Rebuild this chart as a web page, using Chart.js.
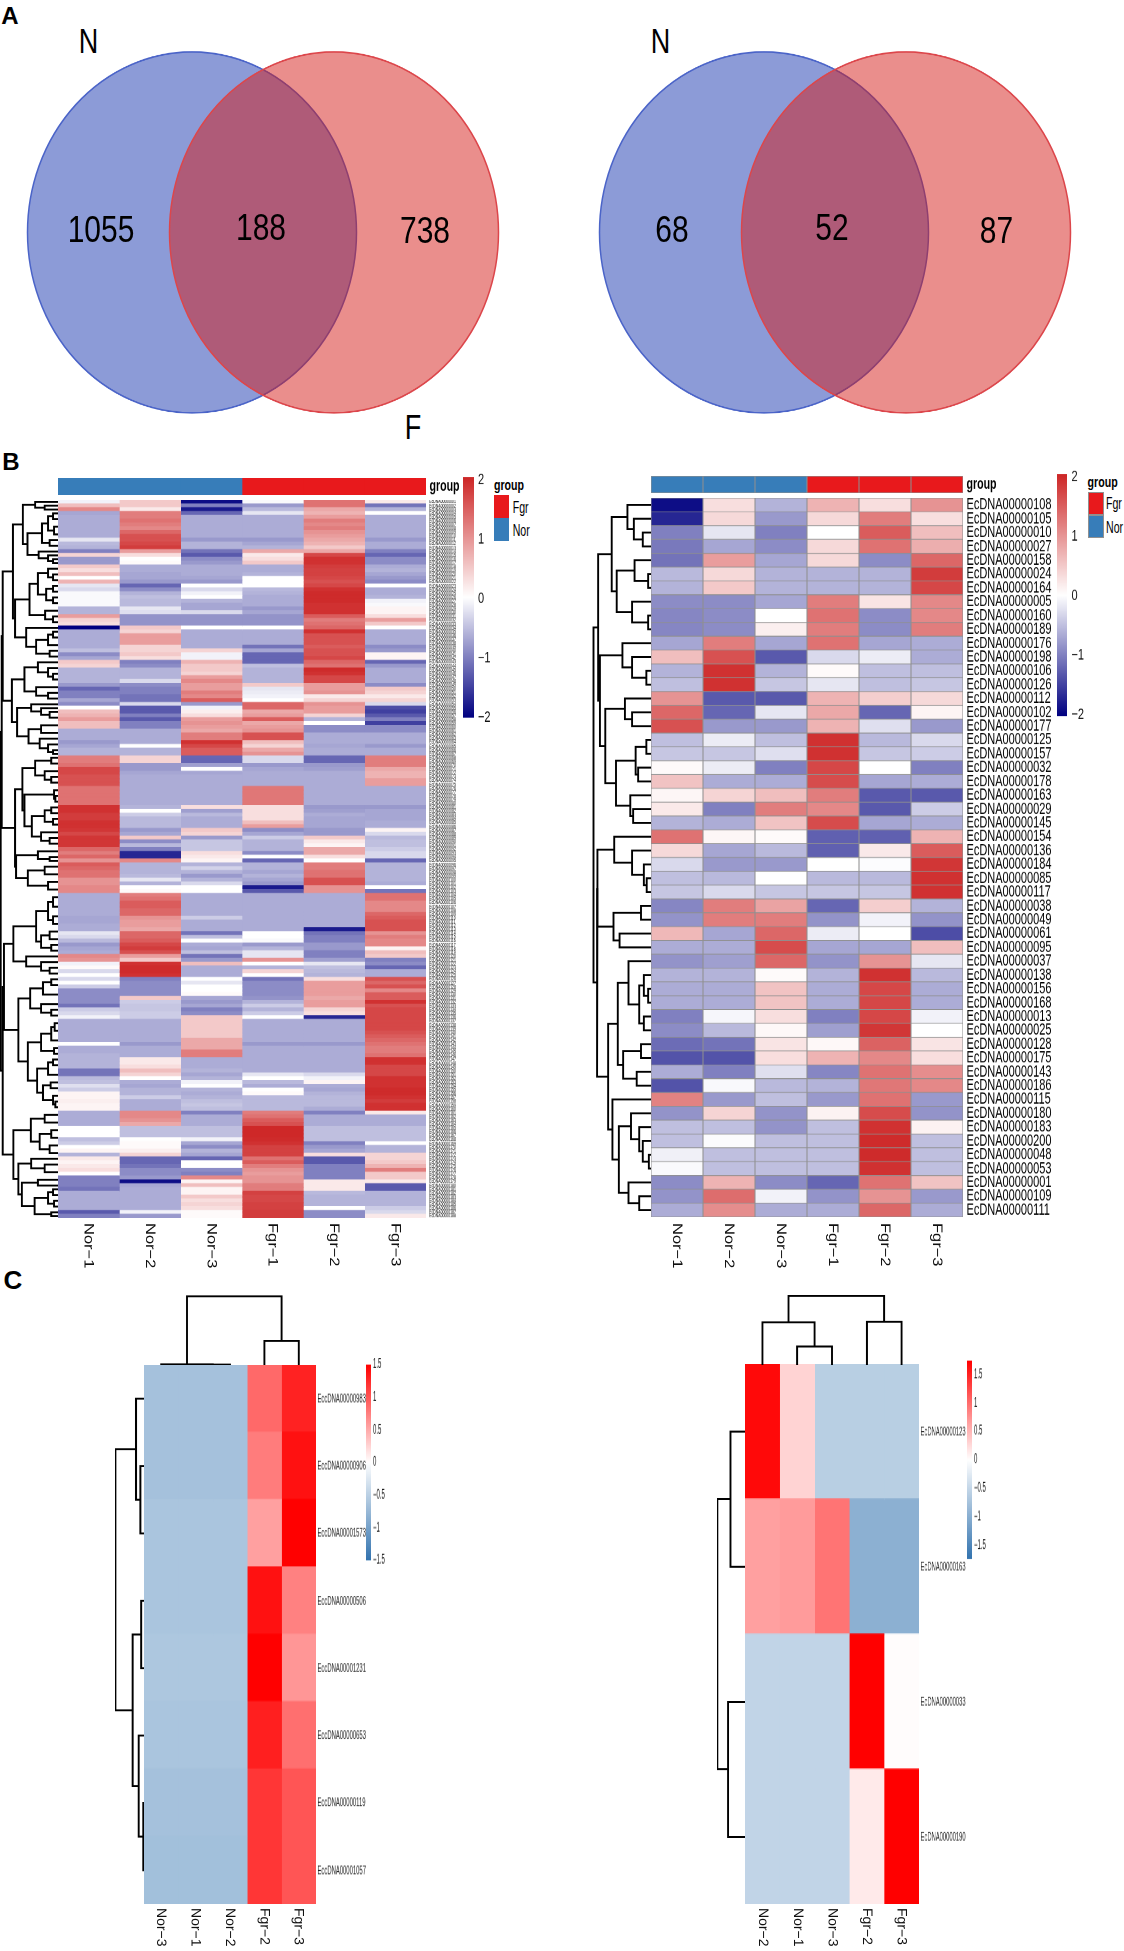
<!DOCTYPE html>
<html>
<head>
<meta charset="utf-8">
<script src="https://cdn.jsdelivr.net/npm/chart.js@4"></script>
<style>
  html, body { margin: 0; padding: 0; background: #fff; }
  #page { position: relative; width: 1124px; height: 1951px; overflow: hidden; background: #fff; font-family: "Liberation Sans", Arial, sans-serif; color: #000; }
  #page span { position: absolute; white-space: nowrap; line-height: 1; }
  #page div.sw { position: absolute; box-sizing: border-box; }
</style>
</head>
<body>
<div id="page"></div>
<script>
// panel A
const vennLeft = ["1055", "188", "738"];
const vennRight = ["68", "52", "87"];

// panel B left, one array per column, top row first
const b1Nor1 = [
  -.1,.6,1.1,-.7,-.65,-.65,-.65,-.65,-.65,-.65,
  -.2,-.55,-.6,-1,.4,-.8,-.8,.5,.3,.6,
  0,.7,-.2,-.3,-.05,-.05,-.05,-.05,-.6,-.6,
  .9,.4,.3,-2,-.65,-.65,-.65,-.65,-.65,-.5,
  -.9,-.7,.5,.4,-.6,-.6,-.6,-.6,-.8,-1.2,
  -1,-1,-.7,-.9,0,.6,.7,.9,.6,.6,
  -.65,-.65,-.65,-.8,-.7,-.6,-.6,1.2,1.2,1.3,
  1.7,1.7,1.6,1.6,1.6,1.3,1.3,1.3,1.3,1.3,
  1.9,1.9,1.8,1.8,1.9,1.9,1.85,1.7,1.85,1.85,
  1.85,1.4,1.2,1.4,1,1.5,1.4,1.3,1.3,1,
  1,1.1,1.1,-.65,-.65,-.65,-.65,-.65,-.65,-.7,
  -.7,-.65,-.65,-.2,-.3,-.55,-.8,-.7,-.65,1.1,
  1,-.1,.05,-.3,0,-.3,0,-.4,-.9,-.9,
  -.9,-.9,-1.1,-.4,-.3,-.1,-.65,-.65,-.65,-.65,
  -.65,-.65,0,-.65,-.65,-.6,-.6,-.6,-.6,-1.1,
  -1.1,-.55,-.5,-.25,-.4,.1,.1,.15,.1,.1,
  -.65,-.65,-.65,-.65,0,0,0,-.5,-.4,0,
  .1,-.6,.2,.1,.2,.3,0,-1,-1,-1,
  -1.1,-.65,-.65,-.65,-.65,-.65,-1.3,-1
];
const b1Nor2 = [
  .5,.5,.2,1.2,1.2,1.3,1.2,1.1,1.4,1.6,
  1.6,1.7,1.8,.9,.3,0,.05,-.65,-.65,-.7,
  -.7,-.8,-1.2,-.9,-.6,-.5,-.55,-.55,-.2,-.25,
  -.85,-.85,-.85,.5,.4,.9,.9,.9,.4,.4,
  .5,.3,-1,-.9,-.6,-.6,-.6,-.3,-.9,-1,
  -1,-1.1,-1.1,-.3,-1.3,-1.3,-1,-1.3,-1,-1,
  -.65,-.65,-.65,-.65,0,-.6,-.6,.4,.4,-.8,
  -.8,-.7,-.65,-.65,-.65,-.65,-.65,-.65,-.65,-.65,
  -.6,0,-.4,-.55,-.55,-.55,-.8,-.7,.5,-.9,
  -.55,-1,-1.7,-1.7,1.1,-.6,-.6,-.6,-.55,-.2,
  -.6,0,.05,1.2,1.3,1.5,1.5,1.4,1.4,1,
  .9,.9,.8,1.4,1.4,1.5,1.7,1.8,1.6,.9,
  .5,1.9,1.95,1.95,1.9,-1,-.9,-.9,-.9,-.9,
  .5,-.4,-.45,-.45,-.4,-.4,-.65,-.65,-.65,-.65,
  -.65,-.65,-.8,-.65,-.65,-.65,.2,.2,.3,.6,
  .4,0,-.65,-.7,-.6,-.6,-.4,-.65,-.65,-.65,
  1.1,1.1,1,.8,-.5,-.5,-.5,0,.05,.05,
  .15,.4,-1.2,-1.2,-1.1,-.9,-.9,-.8,-1.9,-.7,
  -.65,-.65,-.65,-.65,-.65,-.65,-.1,-.8
];
const b1Nor3 = [
  -1.9,-1,-1.8,-1.2,-.65,-.65,-.65,-.65,-.65,-.65,
  -.8,-.6,-.6,-1.1,-1.3,-.9,-.8,-.65,-.65,-.65,
  -.7,-.8,0,-.3,-.1,0,-.6,-.7,-.7,-.3,
  -.85,-.85,-.85,0,-.65,-.65,-.65,-.65,-.65,.4,
  -.1,-.1,.7,.5,.5,.4,.9,1.1,.9,.9,
  1.2,1.1,1.5,-.8,-.1,.15,.3,.9,1,.9,
  .8,1.2,1.2,1.9,1.7,1.5,1.5,-1.2,-1.2,-.75,
  0,-.7,-.65,-.65,-.65,-.65,-.65,-.65,-.65,-.65,
  .3,-.75,-.55,-.65,-.65,-.65,.5,.4,-.8,-.45,
  -.45,-.45,.3,.2,.1,-.6,-.35,-.6,-.8,-.6,
  -.3,0,0,-.65,-.65,-.65,-.65,-.65,-.65,-.4,
  -.65,-.65,-.65,-1.1,-.5,0,-.65,-.7,-.5,-1.1,
  -.8,.6,-.65,-.65,-.65,0,-.2,0,0,.05,
  -.7,-.8,-.7,-1,-.9,.5,.5,.5,.5,.5,
  .5,.8,.8,.8,1.2,1.2,-.65,-.65,-.65,-.6,
  -.7,-.6,-.1,0,-.6,-.65,-.6,-.5,-.45,-.5,
  -1,-.65,-.65,-.65,-.5,-.5,-.5,-.1,-.7,-.9,
  -.6,-.7,-1.2,0,0,-.9,-1,1.1,.1,.6,
  .1,.1,.5,.3,.4,.3,.05,.05
];
const b1Fgr1 = [
  -.05,-.8,-.55,-.2,-.65,-.65,-.65,-.65,-.65,-.65,
  -.8,-.7,-.6,.8,.2,.3,.5,-.65,-.65,-.6,
  0,0,0,-.55,-.6,-.65,-.65,-.65,-.8,-.7,
  -.85,-.85,-.85,0,-.65,-.65,-.65,-.65,-1.1,-.7,
  -1.2,-1.2,-1.2,-.5,-.6,-.6,-.6,-.6,.5,-.2,
  -.15,-.1,0,1.4,1.4,.8,.9,1.5,.8,.9,
  1,1.6,1.6,.6,.4,.8,1,-.3,-.3,-.8,
  -.7,-.65,-.65,-.65,-.65,1.25,1.25,1.25,1.25,1.25,
  .3,.3,.3,.3,.6,.9,-.9,-.7,-.4,-.6,
  -.6,-.6,-.9,0,-1.2,-.6,-.6,-.7,-.6,-.7,
  -.8,-1.8,-1.3,-.65,-.65,-.65,-.65,-.65,-.65,-.65,
  -.65,-.65,-.65,0,0,-.05,-.8,-.6,-.2,-.2,
  1,0,-.6,.4,0,-1.1,-.9,-.9,-.9,-.9,
  -.85,-.6,-.4,-.6,-.4,0,-.65,-.65,-.65,-.65,
  -.65,-.65,-.8,-.65,-.65,-.65,-.65,-.65,-.65,-.65,
  -.2,0,-.55,-.65,0,.05,-.55,-.55,-.55,-.55,
  1.2,1.3,1.5,1.6,1.98,1.98,1.98,1.95,1.9,1.75,
  1.75,1.75,1.3,1.5,1.2,1,.9,1,1,1.2,
  1.2,1.75,1.7,1.7,1.75,1.75,1.8,1.8
];
const b1Fgr2 = [
  1.3,1.3,.8,.7,.9,1.2,1.1,1.2,1,.9,
  .8,.7,.5,.8,1.7,1.9,1.9,1.8,1.75,1.75,
  1.7,1.6,1.7,1.9,1.95,1.95,1.95,1.9,1.9,1.9,
  1.5,1.2,1.3,1.4,1.9,1.6,1.6,1.6,1.5,1.6,
  1.6,1.7,1.4,1.3,1.95,1.9,1.7,1.7,.9,.9,
  1,.2,.4,1,.9,.9,.4,-.6,0,-.9,
  -.9,-.65,-.65,-.65,-.7,-.65,-.65,-1.2,-1.2,-.8,
  -.75,-.65,-.65,-.65,-.65,-.65,-.65,-.65,-.65,-.65,
  -.8,-.75,-.65,-.7,-.7,-.7,-.8,-.8,.5,.2,
  .1,.8,.8,.3,0,1.2,1.2,1.3,1.3,1.6,
  1.6,1,1,-.65,-.65,-.65,-.65,-.65,-.65,-.65,
  -.65,-.65,-1.8,-1.1,-1,-1,-.8,-.8,-1,-1,
  -.75,-.2,-.5,-.55,-.6,.3,.9,.9,.9,.9,
  .8,.9,.9,.4,.3,-1.7,-.65,-.65,-.65,-.65,
  -.65,-.65,-.8,-.65,-.65,-.65,-.65,-.65,-.65,-.65,
  -.3,-.1,.1,-.65,-.7,-.6,-.55,-.55,-.55,-.65,
  -1,-.65,-.65,-.65,-.5,-.5,-.5,-.5,-1,-.8,
  -.7,.3,-1.3,-1.3,-1,-1,-1,-1,.2,.2,
  .2,-.55,-.6,-.6,-.6,0,-.9,-.9
];
const b1Fgr3 = [
  .2,-1.1,-.6,0,-.65,-.65,-.65,-.65,-.65,-.65,
  -.8,-.65,-.65,-1,-1.2,-.9,-.9,-.65,-.6,-.7,
  -.8,-.9,0,-.65,-.65,-.6,-.1,-.05,.1,.1,
  .3,.9,.5,0,-.65,-.65,-.65,-.65,-.9,-.8,
  .1,.1,-1.2,-.8,-.65,-.65,-.65,-.65,-.9,.5,
  .4,.2,.4,-.3,-1.4,-1.5,-1.3,-1,-1.5,-.9,
  -.9,-.65,-.65,-.65,-.8,-.65,-.65,1.2,1.2,1.2,
  .8,.7,.7,.9,.9,-.65,-.65,-.65,-.65,-.65,
  -.8,-.7,-.7,-.7,-.65,-.65,.1,-.3,-.55,-.5,
  -.5,-.4,-.3,-.3,-1.2,-.6,-.6,-.6,-.6,-.6,
  -.65,0,-1.1,1.3,1.3,1.1,1.1,1.1,1.4,1.5,
  1.6,1.6,1.6,1,1.2,1.1,1.1,.1,.6,.5,
  -1,-.9,-1.2,-.65,-.65,1.6,1.4,1.6,1.1,1.5,
  1.5,1.9,1.6,1.7,1.7,1.7,1.7,1.7,1.7,1.6,
  1.5,1.4,1.3,1.2,1.2,1.3,1.9,1.9,1.7,1.7,
  1.7,1.9,1.9,1.9,1.95,1.95,1.9,1.8,1.9,1.9,
  .2,-.65,-.65,-.65,-.5,-.5,-.5,-.5,0,-.6,
  -.6,.4,.4,.5,.7,1.2,.5,.5,.2,-1.3,
  -1.3,-.6,-.6,-.6,-.6,-.4,-.3,.2
];
const b1Rows = b1Nor1.map((v, i) => "EcDNA" + String(i + 1).padStart(8, "0"));

// cluster merges: [height, first row, first row of second branch, end row]
const b1Tree = [
  [171,0,103,188],[168,0,67,103],[165,0,42,67],[165,103,160,188],[161,103,125,160],
  [135,0,17,42],[105,0,3,17],[68,0,1,3],[40,1,2,3],[91,3,13,17],[48,3,10,13],[30,3,6,10],[15,3,4,6],[12,6,8,10],[25,10,11,13],
  [58,13,14,17],[30,14,15,17],[15,15,16,17],[128,17,33,42],[85,17,28,33],[60,17,22,28],[30,17,19,22],[15,19,20,22],[35,22,25,28],[15,22,23,25],[15,25,26,28],
  [38,28,30,33],[15,30,31,33],[95,33,34,42],[65,34,39,42],[30,34,37,39],[15,34,35,37],[25,39,40,42],
  [138,42,53,67],[100,42,48,53],[60,42,43,48],[30,43,45,48],[15,45,46,48],[65,48,50,53],[30,50,51,53],
  [122,53,58,67],[80,53,54,58],[50,54,55,58],[25,55,56,58],[88,58,62,67],[50,58,60,62],[55,62,63,67],[30,63,65,67],[15,65,66,67],
  [128,67,91,103],[106,67,75,91],[68,67,70,75],[40,70,72,75],[20,72,73,75],[20,67,68,70],[100,75,80,91],[12,75,77,80],[8,77,78,80],
  [78,80,86,91],[40,80,83,86],[20,80,81,83],[15,83,84,86],[50,86,88,91],[25,88,89,91],
  [125,91,95,103],[60,91,93,95],[25,93,94,95],[90,95,99,103],[40,95,97,99],[30,99,101,103],
  [133,103,119,125],[65,103,112,119],[30,103,108,112],[15,103,105,108],[15,108,110,112],[50,112,116,119],[25,112,114,116],[20,116,117,119],
  [95,119,120,125],[50,120,122,125],[25,122,123,125],
  [118,125,136,160],[83,125,131,136],[45,125,128,131],[20,125,126,128],[50,131,133,136],[20,133,134,136],
  [90,136,146,160],[50,136,143,146],[20,136,140,143],[10,136,138,140],[12,143,144,146],[62,146,152,160],[30,146,149,152],[15,146,147,149],[45,152,155,160],[22,152,153,155],[15,155,157,160],[8,157,158,160],
  [133,160,172,188],[81,160,164,172],[40,160,162,164],[55,164,168,172],[20,164,166,168],[25,168,170,172],
  [118,172,177,188],[80,172,173,177],[40,173,175,177],[108,177,180,188],[60,177,179,180],[70,180,186,188],[30,180,183,186],[12,183,184,186],[20,186,187,188],[15,180,181,183]
];

// panel B right
const b2Rows = ["108","105","010","027","158","024","164","005","160","189","176","198","106","126","112","102","177","125","157","032","178","163","029","145","154","136","184","085","117","038","049","061","095","037","138","156","168","013","025","128","175","143","186","115","180","183","200","048","053","001","109","111"].map(s => "EcDNA00000" + s);
const b2Values = [
  [-1.9,.3,-.6,.7,.3,1],[-1.7,.35,-.8,.35,1.2,.3],[-1,-.2,-1,0,1.5,.6],[-1.05,-.7,-.9,.35,1.3,.75],
  [-1.1,.9,-.7,.35,-.9,1.4],[-.55,.35,-.6,-.6,-.6,1.8],[-.6,.5,-.6,-.6,-.6,1.7],[-.9,-.9,-.7,1.2,.25,1.1],
  [-.95,-.9,0,1.3,-.9,1.1],[-.95,-.9,.15,1.2,-.9,1.2],[-.7,1.2,-.7,1.3,-.7,-.65],[.6,1.6,-1.3,-.3,-.15,-.65],
  [-.6,1.9,-.6,.05,-.5,-.5],[-.5,1.9,-.45,-.2,-.5,-.45],[1,-1.3,-1.3,.7,.45,.35],[1.4,-1.2,-.2,.8,-1.2,.1],
  [1.6,-.8,-.8,.7,-.25,-.8],[-.5,-.15,-.5,1.9,-.55,-.3],[-.45,-.45,-.25,1.9,-.45,-.4],[.05,-.15,-1,1.7,0,-1],
  [.55,-.65,-.65,1.65,-.7,-.65],[.08,.4,.6,1.2,-1.3,-1.3],[.2,-1,1.2,1.1,-1.3,-.4],[-.6,-.65,.55,1.65,-.7,-.65],
  [1.3,.08,.05,-1.25,-1.25,.7],[.35,-.7,-.55,-1.25,.2,1.5],[-.3,-.8,-.8,0,-.02,1.85],[-.5,-.55,0,-.55,-.55,1.9],
  [-.45,-.3,-.45,-.45,-.45,1.9],[-.95,1.2,.85,-1.2,.45,-.6],[-.85,1.2,1.2,-.85,-.1,-.85],[.65,-.7,1.4,-.15,0,-1.4],
  [-.65,-.65,1.65,-.7,-.7,.6],[-.85,-.75,1.4,-.85,1,-.2],[-.6,-.6,.05,-.6,1.9,-.55],[-.65,-.65,.55,-.65,1.7,-.65],
  [-.65,-.65,.55,-.65,1.7,-.65],[-1,-.07,.3,-1,1.7,-.1],[-.9,-.55,.06,-.75,1.85,0],[-1.15,-1.1,.25,.06,1.45,.25],
  [-1.35,-1.35,.3,.7,1.1,.3],[-.65,-1,-.25,-.95,1.3,1.05],[-1.35,-.05,-.55,-.6,1.25,1.1],[1.15,-.8,-.5,-.8,1.3,-.8],
  [-.85,.4,-.85,.12,1.65,-.85],[-.5,-.5,-.85,-.5,1.9,.12],[-.5,-.03,-.5,-.5,1.95,-.5],[-.12,-.5,-.5,-.5,1.95,-.5],
  [-.05,-.5,-.5,-.5,1.9,-.5],[-.9,.7,-.9,-1.2,1.3,.55],[-.85,1.35,-.1,-.85,1,-.8],[-.65,1.05,-.65,-.65,1.4,-.65]
];
const b2Tree = [
  [161,0,24,52],[148,0,10,24],[110,0,4,10],[66,0,1,4],[48,1,2,4],[23,2,3,4],[96,4,7,10],[46,4,5,7],[8,5,6,7],[53,7,8,10],[8,8,9,10],
  [143,10,14,24],[80,10,11,14],[53,11,12,14],[13,12,13,14],[128,14,17,24],[73,14,15,17],[53,15,16,17],
  [98,17,21,24],[43,17,19,21],[13,17,18,19],[36,19,20,21],[58,21,22,24],[50,22,23,24],
  [151,24,33,52],[150,24,29,33],[103,24,25,29],[53,25,26,29],[20,26,27,29],[12,27,28,29],
  [105,29,31,33],[28,29,30,31],[88,31,32,33],
  [120,33,43,52],[93,33,39,43],[63,33,34,39],[33,34,37,39],[20,34,35,37],[8,35,36,37],[20,37,38,39],
  [78,39,41,43],[28,39,40,41],[40,41,42,43],
  [108,43,44,52],[90,44,49,52],[56,44,45,49],[33,45,46,49],[23,46,47,49],[6,47,48,49],[63,49,50,52],[33,50,51,52]
];

const bCols = ["Nor−1", "Nor−2", "Nor−3", "Fgr−1", "Fgr−2", "Fgr−3"];
const bGroups = [0, 0, 0, 1, 1, 1];
const bTicks = [-2, -1, 0, 1, 2];

// panel C left
const c1Cols = ["Nor−3", "Nor−1", "Nor−2", "Fgr−2", "Fgr−3"];
const c1Rows = ["EccDNA00000983", "EccDNA00000906", "EccDNA00001573", "EccDNA00000506", "EccDNA00001231", "EccDNA00000653", "EccDNA00000119", "EccDNA00001057"];
const c1Values = [
  [-.66,-.66,-.66,.88,1.3],[-.66,-.66,-.66,.77,1.4],[-.62,-.62,-.62,.56,1.5],[-.62,-.62,-.62,1.4,.74],
  [-.6,-.6,-.6,1.5,.62],[-.62,-.62,-.62,1.32,.85],[-.66,-.66,-.66,1.18,1],[-.68,-.68,-.68,1.18,1]
];
const c1RowTree = [[80,0,3,8],[22,0,1,3],[10,1,2,3],[32,3,5,8],[8,3,4,5],[15,5,6,8],[2,6,7,8]];
const c1ColTree = [[154,0,3,5],[54,3,4,5],[1.5,0,1,3],[1,1,2,3]];
const c1Ticks = [-1.5, -1, -.5, 0, .5, 1, 1.5];

// panel C right
const c2Cols = ["Nor−2", "Nor−1", "Nor−3", "Fgr−2", "Fgr−3"];
const c2Rows = ["EcDNA00000123", "EcDNA00000163", "EcDNA00000033", "EcDNA00000190"];
const c2Values = [
  [1.68,.3,-.6,-.6,-.6],[.65,.68,.95,-.98,-.98],[-.53,-.53,-.53,1.74,.02],[-.53,-.53,-.53,.14,1.74]
];
const c2RowTree = [[80,0,2,4],[42,0,1,2],[49,2,3,4]];
const c2ColTree = [[157,0,3,5],[97,0,1,3],[42,1,2,3],[98,3,4,5]];
const c2Ticks = [-1.5, -1, -.5, 0, .5, 1, 1.5];

Chart.defaults.font.family = '"Liberation Sans", Arial, sans-serif';
Chart.defaults.color = "#000";
Chart.defaults.animation = false;
Chart.defaults.layout.autoPadding = false;
Chart.defaults.plugins.legend.display = false;
Chart.defaults.plugins.tooltip.enabled = false;

const page = document.getElementById("page");
const NOR = "#377db9";
const FGR = "#e8191c";

function ramp(low, high, max) {
  return function (v) {
    let t = Math.min(1, Math.abs(v) / max);
    let c = v < 0 ? low : high;
    return `rgb(${Math.round(255 + (c[0] - 255) * t)},${Math.round(255 + (c[1] - 255) * t)},${Math.round(255 + (c[2] - 255) * t)})`;
  };
}
const bColor = ramp([0, 0, 128], [205, 38, 38], 2);
const c1Color = ramp([50, 115, 175], [255, 0, 0], 1.5);
const c2Color = ramp([50, 115, 175], [255, 0, 0], 1.74);

function place(left, top, w, h, stretch) {
  let c = document.createElement("canvas");
  c.width = w;
  c.height = Math.round(h / stretch);
  c.style.cssText = `position:absolute;left:${left}px;top:${top}px;width:${w}px;height:${Math.round(h / stretch)}px;transform-origin:0 0;transform:scaleY(${h / Math.round(h / stretch)});`;
  page.appendChild(c);
  return c;
}

function text(str, cx, cy, size, sy, weight) {
  let s = document.createElement("span");
  s.textContent = str;
  s.style.cssText = `left:${cx}px;top:${cy}px;font-size:${size}px;font-weight:${weight || "normal"};transform:translate(-50%,-50%) scaleY(${sy || 1});`;
  page.appendChild(s);
}

function textLeft(str, x, cy, size, sy, weight) {
  let s = document.createElement("span");
  s.textContent = str;
  s.style.cssText = `left:${x}px;top:${cy}px;font-size:${size}px;font-weight:${weight || "normal"};transform:translateY(-50%) scaleY(${sy || 1});transform-origin:0 50%;`;
  page.appendChild(s);
}

function swatch(left, top, w, h, color, border) {
  let d = document.createElement("div");
  d.className = "sw";
  d.style.cssText = `left:${left}px;top:${top}px;width:${w}px;height:${h}px;background:${color};${border ? "border:1.5px solid #909090;" : ""}`;
  page.appendChild(d);
}

// two overlapping sets, stretched a little to ellipses like the original figure
function venn(left, numbers, ys) {
  const gap = 142, r = 164.5, pad = 4, sy = 362 / 330;
  let c = place(left - pad, 51 - pad * sy, 330 + gap + pad * 2, (330 + pad * 2) * sy, sy);
  new Chart(c, {
    type: "bubble",
    data: {
      // the first dataset is painted last, so the red set goes on top
      datasets: [
        { data: [{ x: 1, y: 0, r: r }], backgroundColor: "rgba(213,25,20,.49)", borderColor: "rgb(220,70,75)", borderWidth: 1.5, clip: false },
        { data: [{ x: 0, y: 0, r: r }], backgroundColor: "rgba(25,55,175,.5)", borderColor: "rgb(75,100,200)", borderWidth: 1.5, clip: false }
      ]
    },
    options: {
      responsive: false,
      devicePixelRatio: 2,
      layout: { padding: pad },
      scales: {
        x: { display: false, min: -165 / gap, max: 1 + 165 / gap },
        y: { display: false, min: -1, max: 1 }
      }
    }
  });
  text(numbers[0], ys[0], 230, 30, 1.21);
  text(numbers[1], ys[1], 228, 30, 1.21);
  text(numbers[2], ys[2], 231, 30, 1.21);
}

function heat(o) {
  let c = place(o.left, o.top, o.w + o.labelW, o.h, o.stretch);
  new Chart(c, {
    type: "bar",
    data: {
      labels: o.labels,
      datasets: o.cols.map(col => ({
        data: col.map(() => 1),
        backgroundColor: col.map(o.color),
        borderColor: o.border ? "#909090" : undefined,
        borderWidth: o.border ? o.border : 0,
        borderSkipped: false,
        barPercentage: 1,
        categoryPercentage: 1
      }))
    },
    options: {
      indexAxis: "y",
      responsive: false,
      devicePixelRatio: 2,
      scales: {
        x: { stacked: true, display: false, min: 0, max: o.cols.length },
        y: {
          stacked: true,
          position: "right",
          grid: { display: false, drawTicks: false },
          border: { display: false },
          ticks: { autoSkip: false, padding: o.labelPad, color: o.labelColor || "#000", font: { size: o.labelSize, weight: o.labelWeight || "normal" } },
          afterFit: s => { s.width = o.labelW; s.paddingTop = 0; s.paddingBottom = 0; }
        }
      }
    }
  });
}

// column names, rotated to read downwards
function colLabels(left, top, w, labels, stretch) {
  const size = 14, spare = 24;
  // chart.js moves rotated labels sideways by one line height on a top axis
  const shift = size * 1.2;
  const boxH = Math.round(60 / stretch) - 1;
  let c = place(left - shift, top, w + spare, 60, stretch);
  new Chart(c, {
    type: "bar",
    data: { labels: labels, datasets: [{ data: [] }] },
    options: {
      responsive: false,
      devicePixelRatio: 2,
      layout: { padding: { right: spare } },
      scales: {
        y: { display: false },
        x: {
          position: "top",
          grid: { display: false, drawTicks: false },
          border: { display: false },
          ticks: { autoSkip: false, minRotation: -90, maxRotation: -90, padding: boxH, color: "#111", font: { size: size } },
          afterFit: s => { s.height = boxH; s.paddingLeft = 0; s.paddingRight = 0; }
        }
      }
    }
  });
}

function dendro(tree, n, o) {
  let byRange = {};
  tree.forEach(m => { byRange[m[1] + "-" + m[3]] = m; });
  function center(a, b) {
    let m = byRange[a + "-" + b];
    return m ? (center(m[1], m[2]) + center(m[2], m[3])) / 2 : (a + b - 1) / 2;
  }
  function height(a, b) {
    let m = byRange[a + "-" + b];
    return m ? m[0] : 0;
  }
  let pt = (h, p) => (o.top ? { x: p, y: h } : { x: h, y: p });
  let datasets = tree.map(m => ({
    data: [
      pt(height(m[1], m[2]), center(m[1], m[2])),
      pt(m[0], center(m[1], m[2])),
      pt(m[0], center(m[2], m[3])),
      pt(height(m[2], m[3]), center(m[2], m[3]))
    ],
    showLine: true,
    borderColor: "#000",
    borderWidth: o.line,
    pointRadius: 0,
    tension: 0,
    clip: false
  }));
  let c = place(o.left, o.y, o.w, o.h, 1);
  let hScale = { display: false, min: 0, max: o.max, reverse: !o.top };
  let pScale = { display: false, min: -0.5, max: n - 0.5, reverse: !o.top };
  new Chart(c, {
    type: "scatter",
    data: { datasets: datasets },
    options: {
      responsive: false,
      devicePixelRatio: 2,
      scales: o.top ? { x: pScale, y: hScale } : { x: hScale, y: pScale }
    }
  });
}

function colorbar(o) {
  const pad = 8;
  let c = place(o.left, o.top - pad * o.stretch, o.w + o.labelW, o.h + pad * 2 * o.stretch, o.stretch);
  new Chart(c, {
    type: "bar",
    data: {
      labels: [""],
      datasets: [{
        data: [[o.min, o.max]],
        barPercentage: 1,
        categoryPercentage: 1,
        backgroundColor: ctx => {
          let a = ctx.chart.chartArea;
          if (!a) return "#fff";
          let g = ctx.chart.ctx.createLinearGradient(0, a.bottom, 0, a.top);
          g.addColorStop(0, o.color(o.min));
          g.addColorStop(0.5, "#fff");
          g.addColorStop(1, o.color(o.max));
          return g;
        }
      }]
    },
    options: {
      responsive: false,
      devicePixelRatio: 2,
      layout: { padding: { top: pad, bottom: pad } },
      scales: {
        x: { display: false },
        y: {
          position: "right",
          min: o.min,
          max: o.max,
          grid: { display: false, drawTicks: false },
          border: { display: false },
          afterBuildTicks: s => { s.ticks = o.ticks.map(v => ({ value: v })); },
          afterFit: s => { s.width = o.labelW; s.paddingTop = 0; s.paddingBottom = 0; },
          ticks: {
            padding: o.labelPad,
            color: "#111",
            font: { size: o.size },
            callback: v => String(v).replace("-", "−")
          }
        }
      }
    }
  });
}

// A
text("A", 10, 15.5, 24, 1, "bold");
text("N", 88.5, 41.5, 27, 1.3);
text("N", 660.5, 41.5, 27, 1.3);
text("F", 413, 427.5, 27, 1.3);
venn(27, vennLeft, [101, 261, 425]);
venn(598.6, vennRight, [672, 832, 996.5]);

// B left
text("B", 11, 462, 24, 1, "bold");
heat({ left: 57.7, top: 478, w: 368, h: 17, stretch: 1.4, cols: bGroups.map(g => [g]), labels: ["group"], color: v => (v ? FGR : NOR), labelW: 34, labelPad: 3.5, labelSize: 10.6, labelWeight: "bold" });
heat({ left: 57.7, top: 500, w: 368, h: 718, stretch: 1.5, cols: [b1Nor1, b1Nor2, b1Nor3, b1Fgr1, b1Fgr2, b1Fgr3], labels: b1Rows, color: bColor, labelW: 31, labelPad: 3.3, labelSize: 3.45, labelColor: "#000" });
dendro(b1Tree, 188, { left: 0, y: 500, w: 57.7, h: 718, max: 173, line: 1.9 });
colLabels(57.7, 1223, 368, bCols, 1.17);
colorbar({ left: 462.7, top: 477.3, w: 11.3, h: 240.4, stretch: 1.4, min: -2, max: 2.05, ticks: bTicks, color: bColor, labelW: 20, labelPad: 4, size: 11 });
textLeft("group", 494, 485, 10.6, 1.4, "bold");
swatch(494, 495, 15.3, 23, FGR);
swatch(494, 518, 15.3, 22.7, NOR);
textLeft("Fgr", 512.7, 507, 10.6, 1.5);
textLeft("Nor", 512.7, 530, 10.6, 1.5);

// B right
heat({ left: 650.5, top: 475.7, w: 312.5, h: 17, stretch: 1.4, cols: bGroups.map(g => [g]), labels: ["group"], color: v => (v ? FGR : NOR), labelW: 40, labelPad: 3.5, labelSize: 10.6, labelWeight: "bold", border: { left: .85, right: .85, top: .7, bottom: .7 } });
heat({ left: 650.5, top: 497.7, w: 312.5, h: 719, stretch: 1.5, cols: bCols.map((c, i) => b2Values.map(r => r[i])), labels: b2Rows, color: bColor, labelW: 90, labelPad: 3.5, labelSize: 11, border: { left: .85, right: .85, top: .55, bottom: .55 } });
dendro(b2Tree, 52, { left: 590.5, y: 497.7, w: 60, h: 719, max: 168, line: 1.9 });
colLabels(650.5, 1223, 312.5, bCols, 1.17);
colorbar({ left: 1056.6, top: 474, w: 10.9, h: 242, stretch: 1.4, min: -2.02, max: 2.05, ticks: bTicks, color: bColor, labelW: 20, labelPad: 4.5, size: 11 });
textLeft("group", 1087.6, 481.7, 10.6, 1.4, "bold");
swatch(1087.6, 492, 16, 23, FGR, true);
swatch(1087.6, 515, 16, 23, NOR, true);
textLeft("Fgr", 1106, 503, 10.6, 1.5);
textLeft("Nor", 1106, 527, 10.6, 1.5);

// C left
text("C", 13, 1280, 26, 1, "bold");
heat({ left: 144, top: 1365, w: 172, h: 539, stretch: 2.2, cols: c1Cols.map((c, i) => c1Values.map(r => r[i])), labels: c1Rows, color: c1Color, labelW: 50, labelPad: 1.5, labelSize: 5.9, labelColor: "#222" });
dendro(c1RowTree, 8, { left: 115.4, y: 1365, w: 28.6, h: 539, max: 81, line: 1.9 });
dendro(c1ColTree, 5, { top: true, left: 144, y: 1295, w: 172, h: 70, max: 157, line: 1.9 });
colLabels(144, 1908, 172, c1Cols, 1);
colorbar({ left: 366, top: 1365, w: 5.4, h: 195.7, stretch: 2.2, min: -1.5, max: 1.5, ticks: c1Ticks, color: c1Color, labelW: 20, labelPad: 2, size: 6 });

// C right
heat({ left: 745.3, top: 1364, w: 173.7, h: 540.4, stretch: 2.2, cols: c2Cols.map((c, i) => c2Values.map(r => r[i])), labels: c2Rows, color: c2Color, labelW: 50, labelPad: 1.8, labelSize: 5.8, labelColor: "#222" });
dendro(c2RowTree, 4, { left: 716.5, y: 1364, w: 28.8, h: 540.4, max: 81, line: 1.9 });
dendro(c2ColTree, 5, { top: true, left: 745.3, y: 1295, w: 173.7, h: 70, max: 159, line: 1.9 });
colLabels(745.3, 1908, 173.7, c2Cols, 1);
colorbar({ left: 966.5, top: 1360.9, w: 5, h: 198.4, stretch: 2.2, min: -1.74, max: 1.74, ticks: c2Ticks, color: c2Color, labelW: 20, labelPad: 2, size: 6 });
</script>
</body>
</html>
